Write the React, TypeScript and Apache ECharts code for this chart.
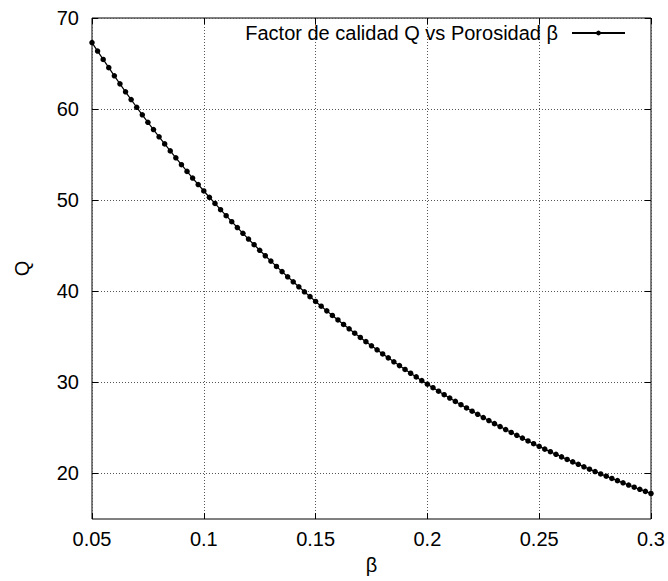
import React, { useEffect, useRef } from "react";
import * as echarts from "echarts";

// Porosity β (x) and quality factor Q (y), one dot per sample
const betaValues = [
  0.05, 0.0525, 0.055, 0.0575, 0.06, 0.0625, 0.065, 0.0675, 0.07, 0.0725,
  0.075, 0.0775, 0.08, 0.0825, 0.085, 0.0875, 0.09, 0.0925, 0.095, 0.0975,
  0.1, 0.1025, 0.105, 0.1075, 0.11, 0.1125, 0.115, 0.1175, 0.12, 0.1225,
  0.125, 0.1275, 0.13, 0.1325, 0.135, 0.1375, 0.14, 0.1425, 0.145, 0.1475,
  0.15, 0.1525, 0.155, 0.1575, 0.16, 0.1625, 0.165, 0.1675, 0.17, 0.1725,
  0.175, 0.1775, 0.18, 0.1825, 0.185, 0.1875, 0.19, 0.1925, 0.195, 0.1975,
  0.2, 0.2025, 0.205, 0.2075, 0.21, 0.2125, 0.215, 0.2175, 0.22, 0.2225,
  0.225, 0.2275, 0.23, 0.2325, 0.235, 0.2375, 0.24, 0.2425, 0.245, 0.2475,
  0.25, 0.2525, 0.255, 0.2575, 0.26, 0.2625, 0.265, 0.2675, 0.27, 0.2725,
  0.275, 0.2775, 0.28, 0.2825, 0.285, 0.2875, 0.29, 0.2925, 0.295, 0.2975,
  0.3,
];

const qValues = [
  67.3, 66.37, 65.45, 64.55, 63.65, 62.77, 61.9, 61.05, 60.2, 59.37,
  58.55, 57.75, 56.96, 56.18, 55.41, 54.65, 53.9, 53.16, 52.43, 51.72,
  51.01, 50.32, 49.64, 48.96, 48.3, 47.64, 47.0, 46.36, 45.73, 45.11,
  44.5, 43.9, 43.31, 42.73, 42.16, 41.59, 41.04, 40.49, 39.94, 39.41,
  38.88, 38.36, 37.85, 37.35, 36.85, 36.36, 35.88, 35.4, 34.93, 34.47,
  34.01, 33.57, 33.12, 32.69, 32.26, 31.84, 31.42, 31.0, 30.6, 30.19,
  29.8, 29.41, 29.03, 28.65, 28.28, 27.91, 27.55, 27.19, 26.83, 26.49,
  26.14, 25.81, 25.47, 25.15, 24.82, 24.5, 24.19, 23.88, 23.57, 23.27,
  22.97, 22.67, 22.39, 22.1, 21.82, 21.54, 21.27, 21.0, 20.73, 20.47,
  20.21, 19.95, 19.7, 19.45, 19.21, 18.97, 18.73, 18.49, 18.26, 18.03,
  17.8,
];

const xTicks = [0.05, 0.1, 0.15, 0.2, 0.25, 0.3];
const yTicks = [20, 30, 40, 50, 60, 70];

const seriesName = "Factor de calidad Q vs Porosidad β";
const xName = "β";
const yName = "Q";

const FONT = "'Liberation Sans', Arial, Helvetica, sans-serif";
const FS = 20;

export default function App() {
  const ref = useRef<HTMLDivElement>(null);

  useEffect(() => {
    if (!ref.current) return;
    const chart = echarts.init(ref.current, null, { renderer: "svg" });

    const tick = { show: true, inside: true, length: 6, lineStyle: { color: "#000", width: 1 } };
    const gridLine = { show: true, lineStyle: { color: "#555", width: 1, type: [1, 2] as number[] } };
    const fmtX = (v: number) => String(Math.round(v * 100) / 100);

    chart.setOption({
      animation: false,
      backgroundColor: "#fff",
      textStyle: { fontFamily: FONT, color: "#000" },
      grid: {
        left: 92,
        right: 17,
        top: 18,
        bottom: 62,
        show: true,
        borderColor: "#000",
        borderWidth: 1,
        backgroundColor: "transparent",
      },
      legend: {
        show: true,
        data: [seriesName],
        right: 42,
        top: 23,
        padding: 0,
        align: "right",
        itemWidth: 53,
        itemHeight: 6,
        selectedMode: false,
        textStyle: { fontFamily: FONT, fontSize: FS, color: "#000", padding: [0, 9, 0, 0] },
      },
      xAxis: [
        {
          type: "value",
          min: 0.05,
          max: 0.3,
          name: xName,
          nameLocation: "middle",
          nameGap: 36,
          nameTextStyle: { fontFamily: FONT, fontSize: FS, color: "#000" },
          axisLine: { show: false },
          axisTick: { ...tick, customValues: xTicks },
          axisLabel: {
            customValues: xTicks,
            margin: 10,
            fontFamily: FONT,
            fontSize: FS,
            color: "#000",
            formatter: fmtX,
          },
          splitLine: gridLine,
        },
        {
          type: "value",
          position: "top",
          min: 0.05,
          max: 0.3,
          axisLine: { show: false },
          axisTick: { ...tick, customValues: xTicks },
          axisLabel: { show: false },
          splitLine: { show: false },
        },
      ],
      yAxis: [
        {
          type: "value",
          min: 15,
          max: 70,
          name: yName,
          nameLocation: "middle",
          nameGap: 60,
          nameRotate: 90,
          nameTextStyle: { fontFamily: FONT, fontSize: FS, color: "#000" },
          axisLine: { show: false },
          axisTick: { ...tick, customValues: yTicks },
          axisLabel: {
            customValues: yTicks,
            margin: 13,
            fontFamily: FONT,
            fontSize: FS,
            color: "#000",
          },
          splitLine: gridLine,
        },
        {
          type: "value",
          position: "right",
          min: 15,
          max: 70,
          axisLine: { show: false },
          axisTick: { ...tick, customValues: yTicks },
          axisLabel: { show: false },
          splitLine: { show: false },
        },
      ],
      series: [
        {
          name: seriesName,
          type: "line",
          xAxisIndex: 0,
          yAxisIndex: 0,
          data: betaValues.map((b, i) => [b, qValues[i]]),
          symbol: "circle",
          symbolSize: 5.5,
          showSymbol: true,
          showAllSymbol: true,
          clip: false,
          itemStyle: { color: "#000" },
          lineStyle: { color: "#000", width: 1.2 },
          emphasis: { disabled: true },
        },
      ],
    });

    return () => chart.dispose();
  }, []);

  return (
    <div
      ref={ref}
      style={{ position: "absolute", left: 0, top: 0, width: 668, height: 581, background: "#fff" }}
    />
  );
}
